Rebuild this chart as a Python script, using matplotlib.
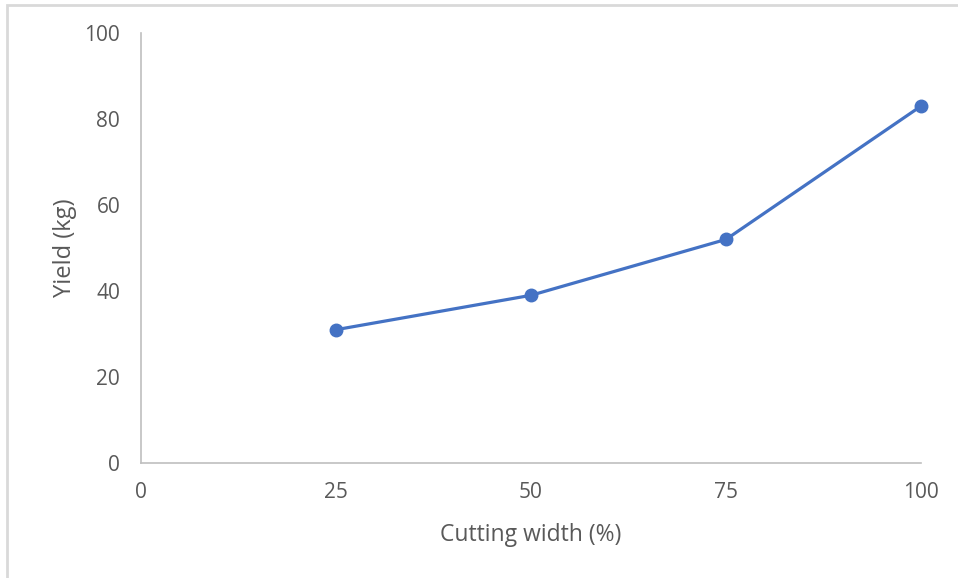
import matplotlib
matplotlib.use('Agg')
import matplotlib.pyplot as plt
import matplotlib.patches as patches

# data
cutting_width = [25, 50, 75, 100]
yield_kg = [31, 39, 52, 83]
x_ticks = [0, 25, 50, 75, 100]
y_ticks = [0, 20, 40, 60, 80, 100]

LINE_COLOR = '#4472C4'
TEXT_COLOR = '#595959'
AXIS_COLOR = '#BFBFBF'

plt.rcParams['font.family'] = ['Open Sans', 'DejaVu Sans']

fig = plt.figure(figsize=(9.58, 5.78), dpi=100)
ax = fig.add_axes([141/958, 1 - 463/578, (921 - 141)/958, (463 - 33)/578])

ax.plot(cutting_width, yield_kg, color=LINE_COLOR, linewidth=2.3,
        marker='o', markersize=9, markerfacecolor=LINE_COLOR,
        markeredgecolor=LINE_COLOR, solid_capstyle='round', clip_on=False)

ax.set_xlim(0, 100)
ax.set_ylim(0, 100)
ax.set_xticks(x_ticks)
ax.set_yticks(y_ticks)

for side in ['top', 'right']:
    ax.spines[side].set_visible(False)
for side in ['left', 'bottom']:
    ax.spines[side].set_color(AXIS_COLOR)
    ax.spines[side].set_linewidth(1.2)

ax.tick_params(axis='both', length=0, labelsize=15, labelcolor=TEXT_COLOR)
ax.tick_params(axis='x', pad=14)
ax.tick_params(axis='y', pad=15)

ax.set_xlabel('Cutting width (%)', fontsize=16.5, color=TEXT_COLOR, labelpad=14)
ax.set_ylabel('Yield (kg)', fontsize=17, color=TEXT_COLOR, labelpad=5)

# chart frame, partly cropped like the screenshot
frame = patches.Rectangle((7/958, -0.05), 1.1, 1 - 5/578 + 0.05,
                          transform=fig.transFigure, fill=False,
                          edgecolor='#D9D9D9', linewidth=2, clip_on=False)
fig.patches.append(frame)

fig.savefig('out.png', dpi=100)
